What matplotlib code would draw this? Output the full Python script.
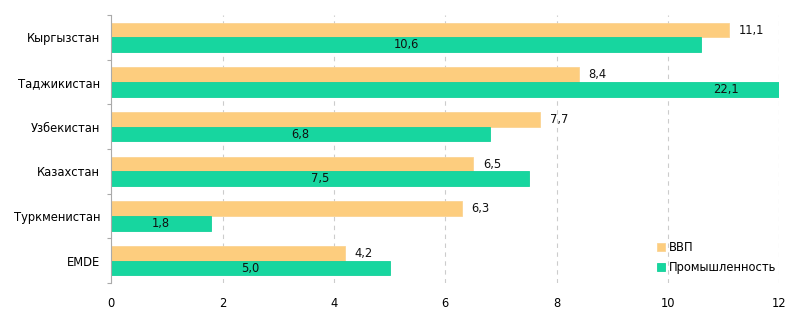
import numpy as np
from matplotlib import pyplot as plt

# Daten
laender = ['Кыргызстан', 'Таджикистан', 'Узбекистан', 'Казахстан', 'Туркменистан', 'EMDE']
vvp = [11.1, 8.4, 7.7, 6.5, 6.3, 4.2]
prom = [10.6, 22.1, 6.8, 7.5, 1.8, 5.0]
xticks = [0, 2, 4, 6, 8, 10, 12]

plt.rcParams['font.family'] = ['DejaVu Sans']
plt.rcParams['font.size'] = 8.3

farbe_vvp = '#FDCD7E'
farbe_prom = '#17D69F'

fig = plt.figure(figsize=(8, 3.22), dpi=100)
ax = fig.add_axes([0.139, 0.121, 0.835, 0.832])

y = np.arange(len(laender))
h = 0.33

ax.barh(y - h / 2, vvp, height=h, color=farbe_vvp, edgecolor='#FBD494', linewidth=0.6, label='ВВП', zorder=2)
ax.barh(y + h / 2, prom, height=h, color=farbe_prom, edgecolor='#14D09A', linewidth=0.6, label='Промышленность', zorder=2)

ax.set_xlim(0, 12)
ax.set_ylim(len(laender) - 0.5, -0.5)

# Beschriftungen der Balken
for i, v in enumerate(vvp):
    ax.annotate(f'{v:.1f}'.replace('.', ','), (v, i - h / 2), xytext=(7, 0),
                textcoords='offset points', va='center', ha='left', color='#111111')
for i, v in enumerate(prom):
    ax.text(v / 2, i + h / 2, f'{v:.1f}'.replace('.', ','), va='center', ha='center',
            color='#111111', zorder=3)

# Achsen
ax.set_yticks(y)
ax.set_yticklabels(laender)
ax.set_yticks(np.arange(-0.5, len(laender), 1), minor=True)
ax.tick_params(axis='y', which='major', length=0, pad=8)
ax.tick_params(axis='y', which='minor', length=3, color='#aaaaaa', width=0.8)
ax.set_xticks(xticks)
ax.set_xticklabels([str(t) for t in xticks])
ax.tick_params(axis='x', length=0, pad=10)

for s in ['top', 'right', 'bottom']:
    ax.spines[s].set_visible(False)
ax.spines['left'].set_color('#aaaaaa')
ax.spines['left'].set_linewidth(0.8)

ax.grid(axis='x', linestyle=(0, (4, 4)), color='#cccccc', linewidth=0.8, zorder=0)
ax.set_axisbelow(True)

ax.legend(loc='lower right', bbox_to_anchor=(0.995, 0.035), borderaxespad=0, borderpad=0,
          frameon=False, handlelength=0.7, handleheight=0.7, handletextpad=0.3,
          labelspacing=0.6)

fig.savefig('out.png', dpi=100)
